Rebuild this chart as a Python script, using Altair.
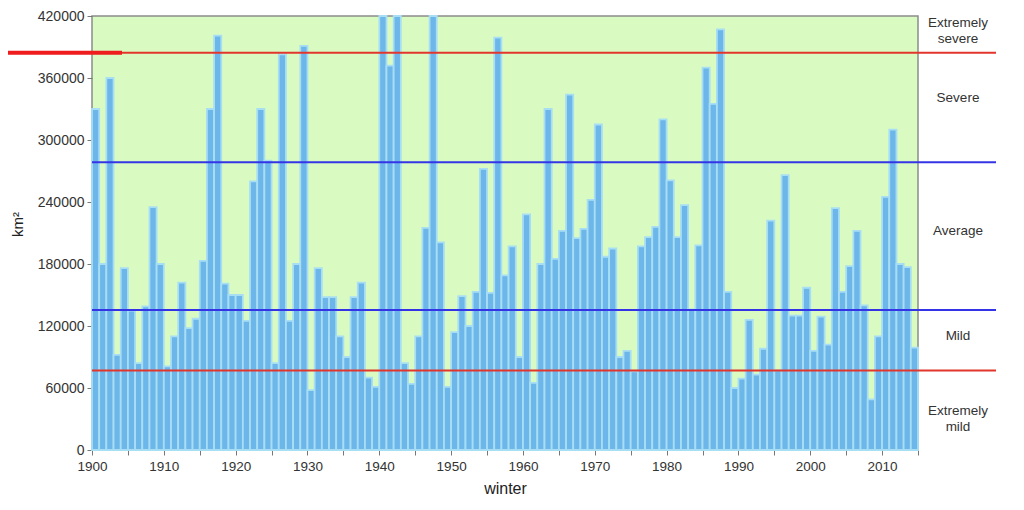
import altair as alt
import pandas as pd

# Winters 1900-2014, maximum ice extent (km²)
years = list(range(1900, 2015))
extent = [
    330000, 180000, 360000, 92000, 176000, 135000, 84000, 139000, 235000, 180000,   # 1900s
    81000, 110000, 162000, 118000, 127000, 183000, 330000, 401000, 161000, 150000,  # 1910s
    150000, 125000, 260000, 330000, 280000, 84000, 383000, 125000, 180000, 391000,  # 1920s
    58000, 176000, 148000, 148000, 110000, 90000, 148000, 162000, 70000, 61000,     # 1930s
    420000, 372000, 420000, 84000, 64000, 110000, 215000, 420000, 201000, 61000,    # 1940s
    114000, 149000, 120000, 153000, 272000, 152000, 399000, 169000, 197000, 90000,  # 1950s
    228000, 65000, 180000, 330000, 185000, 212000, 344000, 205000, 214000, 242000,  # 1960s
    315000, 187000, 195000, 90000, 96000, 76000, 197000, 206000, 216000, 320000,    # 1970s
    261000, 206000, 237000, 136000, 198000, 370000, 335000, 407000, 153000, 60000,  # 1980s
    69000, 126000, 73000, 98000, 222000, 77000, 266000, 130000, 130000, 157000,     # 1990s
    96000, 129000, 102000, 234000, 153000, 178000, 212000, 140000, 49000, 110000,   # 2000s
    245000, 310000, 180000, 177000, 99000,                                          # 2010s
]

# Class boundaries (km²) and their line colours
thresholds = [384500, 278500, 135500, 77000]
threshold_colors = ["#e2362c", "#3434e6", "#3434e6", "#e2362c"]

# Class names on the right and the level (km²) each one is written at
class_names = ["Extremely\nsevere", "Severe", "Average", "Mild", "Extremely\nmild"]
class_label_at = [413000, 341000, 212000, 110000, 37600]

y_ticks = [0, 60000, 120000, 180000, 240000, 300000, 360000, 420000]
x_ticks = list(range(1900, 2016, 5))

FONT = "Liberation Sans"

bars_df = pd.DataFrame({"year": years, "value": extent})
rules_df = pd.DataFrame({"value": thresholds, "color": threshold_colors})
labels_df = pd.DataFrame({"value": class_label_at, "name": class_names})

yscale = alt.Scale(domain=[0, 420000], nice=False, clamp=True)

bars = alt.Chart(bars_df).transform_calculate(
    start="datum.year", end="datum.year + 1"
).mark_bar(
    fill="#6cb6ea", stroke="#a8def4", strokeWidth=1.8
).encode(
    x=alt.X("start:Q",
            scale=alt.Scale(domain=[1900, 2015], nice=False, zero=False),
            axis=alt.Axis(values=x_ticks, format="d",
                          labelExpr="datum.value % 10 == 0 && datum.value < 2015 ? datum.label : ''",
                          labelFlush=False,
                          title="winter", grid=False, domain=False,
                          tickSize=5, tickColor="#777", labelPadding=4,
                          labelFont=FONT, labelFontSize=13.5, labelColor="#333",
                          titleFont=FONT, titleFontSize=16, titleFontWeight="normal",
                          titleColor="#222", titlePadding=8)),
    x2="end:Q",
    y=alt.Y("value:Q", scale=yscale,
            axis=alt.Axis(values=y_ticks, format="d", title="km²", grid=False,
                          labelFlush=False,
                          domain=False, tickSize=5, tickColor="#777", labelPadding=3,
                          labelFont=FONT, labelFontSize=14, labelColor="#333",
                          titleFont=FONT, titleFontSize=15, titleFontWeight="normal",
                          titleColor="#222", titleX=-67, titleY=208)),
    y2=alt.datum(0),
)

rules = alt.Chart(rules_df).mark_rule(strokeWidth=2).encode(
    y=alt.Y("value:Q", scale=yscale),
    x=alt.value(0),
    x2=alt.value(904),
    color=alt.Color("color:N", scale=None),
)

marker = alt.Chart(rules_df.head(1)).mark_rule(strokeWidth=4, color="#ee1c1c").encode(
    y=alt.Y("value:Q", scale=yscale),
    x=alt.value(-84),
    x2=alt.value(30),
)

labels = alt.Chart(labels_df).mark_text(
    lineBreak="\n", lineHeight=16, align="center", baseline="middle",
    font=FONT, fontSize=13.5, color="#333"
).encode(
    y=alt.Y("value:Q", scale=yscale),
    x=alt.value(866),
    text="name:N",
)

chart = alt.layer(bars, rules, marker, labels).properties(
    width=826, height=434,
    autosize=alt.AutoSizeParams(type="none"),
    padding={"left": 84, "top": 8, "right": 90, "bottom": 52},
    background="white",
).configure_view(
    fill="#d9fbc2", stroke="#8c8c8c", strokeWidth=1.5
)

chart.save("out.html", embed_options={"renderer": "svg", "actions": False})
